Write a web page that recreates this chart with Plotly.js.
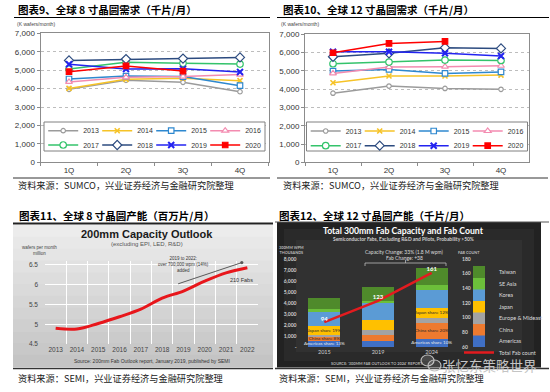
<!DOCTYPE html>
<html><head><meta charset="utf-8">
<script src="https://cdn.plot.ly/plotly-3.0.1.min.js"></script>
<style>html,body{margin:0;padding:0;background:#fff;}#chart{width:550px;height:392px;}</style>
</head><body><div id="chart"></div>
<script>
// ---------------- DATA ----------------
const quarters = ['1Q', '2Q', '3Q', '4Q'];
const demandYears = ['2013', '2014', '2015', '2016', '2017', '2018', '2019', '2020'];
const demandTickVals = [0, 1000, 2000, 3000, 4000, 5000, 6000, 7000];

// Global 8-inch (200mm) wafer demand, K wafers/month
const demand8_2013 = [3960, 4450, 4340, 3830];
const demand8_2014 = [4010, 4500, 4560, 4430];
const demand8_2015 = [4520, 4680, 4650, 4160];
const demand8_2016 = [4360, 4610, 4650, 4760];
const demand8_2017 = [5060, 5430, 5370, 5330];
const demand8_2018 = [5530, 5600, 5630, 5690];
const demand8_2019 = [5320, 5060, 5070, 4900];
const demand8_2020 = [4920, 5230, 4950];

// Global 12-inch (300mm) wafer demand, K wafers/month
const demand12_2013 = [3780, 4170, 4040, 3990];
const demand12_2014 = [4350, 4720, 4720, 4770];
const demand12_2015 = [4990, 5080, 4860, 4940];
const demand12_2016 = [4860, 5210, 5230, 5280];
const demand12_2017 = [5390, 5480, 5590, 5570];
const demand12_2018 = [5770, 5960, 6270, 6230];
const demand12_2019 = [6050, 6050, 5960, 5810];
const demand12_2020 = [5990, 6500, 6610];

// 200mm capacity outlook (million wafers per month)
const capYears = ['2013', '2014', '2015', '2016', '2017', '2018', '2019', '2020', '2021', '2022'];
const cap200mm = [4.90, 4.88, 5.02, 5.19, 5.38, 5.66, 5.84, 6.09, 6.30, 6.43];
const capTickVals = [4.5, 5, 5.5, 6, 6.5];

// 300mm fab capacity (K wpm) by region and fab count
const fabYears = ['2015', '2019', '2024'];
const capAmericas = [570, 550, 720];
const capChina = [350, 580, 1450];
const capEurope = [150, 400, 500];
const capJapan = [840, 920, 870];
const capKorea = [1250, 1530, 1680];
const capSEAsia = [250, 200, 400];
const capTaiwan = [1000, 1250, 1590];
const fabCount = [94, 123, 161];
const fabCountLabels = ['94', '123', '161'];
const shareAmericas = ['Americas share 13%', '', 'Americas share 10%'];
const shareChina = ['China share 8%', '', 'China share 20%'];
const shareJapan = ['Japan share 19%', '', 'Japan share 12%'];
const capTickVals300 = [0, 1000, 2000, 3000, 4000, 5000, 6000, 7000, 8000];
const capTickText300 = ['-', '1,000', '2,000', '3,000', '4,000', '5,000', '6,000', '7,000', '8,000'];
const fabTickVals = [60, 80, 100, 120, 140, 160, 180];

// ---------------- STYLE ----------------
const W = 550, H = 392;
const px = x => x / W;
const py = y => 1 - y / H;
const CJK = 'Noto Sans CJK SC, sans-serif';
const SANS = 'Liberation Sans, Arial, sans-serif';
const LATO = 'Lato, Open Sans, sans-serif';

const seriesStyle = {
  '2013': {color: '#9b9b9b', symbol: 'circle', fill: '#ffffff', size: 4.5},
  '2014': {color: '#f6c327', symbol: 'x-thin', size: 5, lw: 1.6},
  '2015': {color: '#2e88cf', symbol: 'square', fill: '#ffffff', size: 5.5},
  '2016': {color: '#f38bb0', symbol: 'triangle-up', fill: '#ffffff', size: 6},
  '2017': {color: '#34c36b', symbol: 'circle', fill: '#ffffff', size: 6.5},
  '2018': {color: '#2c4b7f', symbol: 'diamond', fill: '#ffffff', size: 7},
  '2019': {color: '#2323f0', symbol: 'x-thin', size: 6, lw: 2},
  '2020': {color: '#ff0000', symbol: 'square', fill: '#ff0000', size: 5.5}
};

function demandTrace(year, values, xa, ya, legendId, lw) {
  const s = seriesStyle[year];
  return {
    type: 'scatter', mode: 'lines+markers', name: year,
    x: quarters.slice(0, values.length), y: values,
    xaxis: xa, yaxis: ya, legend: legendId, legendwidth: lw,
    line: {color: s.color, width: 1.5},
    marker: {symbol: s.symbol, size: s.size, color: s.fill || s.color,
             line: {color: s.color, width: s.lw || 1.2}},
    hoverinfo: 'skip'
  };
}

const set8 = [demand8_2013, demand8_2014, demand8_2015, demand8_2016, demand8_2017, demand8_2018, demand8_2019, demand8_2020];
const set12 = [demand12_2013, demand12_2014, demand12_2015, demand12_2016, demand12_2017, demand12_2018, demand12_2019, demand12_2020];

const data = [];
demandYears.forEach((yr, i) => {
  data.push(demandTrace(yr, set8[i], 'x', 'y', i < 4 ? 'legend' : 'legend2', i % 4 === 3 ? 17 : 9));
});
demandYears.forEach((yr, i) => {
  data.push(demandTrace(yr, set12[i], 'x2', 'y2', i < 4 ? 'legend3' : 'legend4', i % 4 === 3 ? 17 : 9));
});

// panel 3 curve
data.push({
  type: 'scatter', mode: 'lines', x: capYears, y: cap200mm, xaxis: 'x3', yaxis: 'y3',
  line: {color: '#e8161b', width: 3, shape: 'spline', smoothing: 1},
  showlegend: false, hoverinfo: 'skip'
});

// panel 4 stacked bars
function barTrace(name, values, color, legendId) {
  return {
    type: 'bar', name: name, x: fabYears, y: values, xaxis: 'x4', yaxis: 'y4',
    marker: {color: color}, legend: legendId, hoverinfo: 'skip', textposition: 'none'
  };
}
data.push(barTrace('Americas', capAmericas, '#3f6fc4', 'legend11'));
data.push(barTrace('China', capChina, '#ed7a2f', 'legend10'));
data.push(barTrace('Europe & Mideast', capEurope, '#a3a3a3', 'legend9'));
data.push(barTrace('Japan', capJapan, '#ffc000', 'legend8'));
data.push(barTrace('Korea', capKorea, '#5b9bd5', 'legend7'));
data.push(barTrace('SE Asia', capSEAsia, '#6cbf3a', 'legend6'));
data.push(barTrace('Taiwan', capTaiwan, '#4f8a2b', 'legend5'));

// share labels placed at the middle of their stacked segments (derived from the data)
const midAmericas = capAmericas.map(v => v / 2);
const midChina = capChina.map((v, i) => capAmericas[i] + v / 2);
const midJapan = capJapan.map((v, i) => capAmericas[i] + capChina[i] + capEurope[i] + v / 2);
function labelTrace(y, text, color) {
  return {type: 'scatter', mode: 'text', x: fabYears, y: y, text: text, xaxis: 'x4', yaxis: 'y4',
          textposition: 'middle center', cliponaxis: false, showlegend: false, hoverinfo: 'skip',
          textfont: {family: LATO, size: 4.6, color: color}};
}
data.push(labelTrace(midAmericas, shareAmericas, '#e8e8e8'));
data.push(labelTrace(midChina, shareChina, '#2a2a2a'));
data.push(labelTrace(midJapan, shareJapan, '#2a2a2a'));

data.push({
  type: 'scatter', mode: 'lines+text', name: 'Total Fab count',
  x: fabYears, y: fabCount, xaxis: 'x4', yaxis: 'y5',
  text: fabCountLabels, textposition: 'top center', cliponaxis: false,
  textfont: {family: LATO, size: 6, color: '#ffffff', weight: 'bold'},
  line: {color: '#e31b1f', width: 2.5}, legend: 'legend12', hoverinfo: 'skip'
});

// ---------------- LEGENDS ----------------
function rowLegend(x, yc) {
  return {orientation: 'h', x: px(x), y: py(yc - 14.5), xanchor: 'left', yanchor: 'top',
          bgcolor: 'rgba(0,0,0,0)', borderwidth: 0, traceorder: 'normal',
          font: {family: SANS, size: 7, color: '#333'}};
}
function sideLegend(yc) {
  return {orientation: 'v', x: px(459), y: py(yc - 14.5), xanchor: 'left', yanchor: 'top',
          bgcolor: 'rgba(0,0,0,0)', borderwidth: 0,
          font: {family: LATO, size: 5.5, color: '#dddddd'}};
}

// ---------------- SHAPES ----------------
const shapes = [];
function hline(x0, x1, y, color, w) {
  shapes.push({type: 'line', xref: 'paper', yref: 'paper', x0: px(x0), x1: px(x1), y0: py(y), y1: py(y),
               line: {color: color, width: w}, layer: 'above'});
}
function vline(x, y0, y1, color, w) {
  shapes.push({type: 'line', xref: 'paper', yref: 'paper', x0: px(x), x1: px(x), y0: py(y0), y1: py(y1),
               line: {color: color, width: w}, layer: 'above'});
}
// panel 3 gray picture background (gradient bands)
const bTop = 225, bBot = 366.5, nb = 12;
for (let i = 0; i < nb; i++) {
  const t = i / (nb - 1);
  const c = Math.round(236 - t * (236 - 196));
  shapes.push({type: 'rect', xref: 'paper', yref: 'paper', x0: px(13), x1: px(273),
    y0: py(bTop + (i + 1) * (bBot - bTop) / nb + 0.6), y1: py(bTop + i * (bBot - bTop) / nb),
    fillcolor: 'rgb(' + c + ',' + c + ',' + c + ')', line: {width: 0}, layer: 'below'});
}
// panel 4 dark picture background
shapes.push({type: 'rect', xref: 'paper', yref: 'paper', x0: px(277), x1: px(541), y0: py(367.5), y1: py(222),
  fillcolor: '#222222', line: {width: 0}, layer: 'below'});
shapes.push({type: 'rect', xref: 'paper', yref: 'paper', x0: px(284), x1: px(534), y0: py(361), y1: py(229),
  fillcolor: '#2a2a2a', line: {width: 0}, layer: 'below'});
shapes.push({type: 'rect', xref: 'paper', yref: 'paper', x0: px(296), x1: px(522), y0: py(352), y1: py(240),
  fillcolor: '#313131', line: {width: 0}, layer: 'below'});
// legend boxes (panels 1 and 2)
shapes.push({type: 'rect', xref: 'paper', yref: 'paper', x0: px(44), x1: px(265), y0: py(151), y1: py(122),
  fillcolor: '#ffffff', line: {color: '#808080', width: 1}, layer: 'above'});
shapes.push({type: 'rect', xref: 'paper', yref: 'paper', x0: px(306.5), x1: px(527.5), y0: py(151), y1: py(122),
  fillcolor: '#ffffff', line: {color: '#808080', width: 1}, layer: 'above'});
// title underlines and bottom rules
hline(14, 270, 17.5, '#000', 1);
hline(277, 549, 17.5, '#000', 1);
hline(13, 270, 178, '#333', 1);
hline(277, 548, 178, '#333', 1);
hline(13, 273, 223.5, '#222', 2);
hline(275, 549, 222, '#555', 1);
hline(13, 273, 368.5, '#333', 1.5);
hline(275, 549, 368.5, '#333', 1.5);
// bracket in panel 4
hline(365, 446, 263, '#bbbbbb', 0.8);
vline(365, 263, 266, '#bbbbbb', 0.8);
vline(446, 263, 266, '#bbbbbb', 0.8);
vline(405.5, 260, 263, '#bbbbbb', 0.8);
// wechat icon of watermark
shapes.push({type: 'circle', xref: 'paper', yref: 'paper', x0: px(421), x1: px(434), y0: py(366), y1: py(355),
  fillcolor: 'rgba(255,255,255,0.15)', line: {color: '#bdbdbd', width: 1.2}, layer: 'above'});
shapes.push({type: 'circle', xref: 'paper', yref: 'paper', x0: px(428), x1: px(441), y0: py(371), y1: py(360),
  fillcolor: 'rgba(255,255,255,0.15)', line: {color: '#bdbdbd', width: 1.2}, layer: 'above'});

// ---------------- ANNOTATIONS ----------------
function txt(text, x, y, font, extra) {
  return Object.assign({text: text, x: px(x), y: py(y), xref: 'paper', yref: 'paper', showarrow: false,
    xanchor: 'center', yanchor: 'middle', font: font}, extra || {});
}
const titleFont = {family: CJK, size: 10.5, color: '#000'};
const srcFont = {family: CJK, size: 9.2, color: '#222'};
const annotations = [
  txt('<b>图表9、全球 8 寸晶圆需求（千片/月）</b>', 16, 10, titleFont, {xanchor: 'left'}),
  txt('<b>图表10、全球 12 寸晶圆需求（千片/月）</b>', 281, 10, titleFont, {xanchor: 'left'}),
  txt('<b>图表11、全球 8 寸晶圆产能（百万片/月）</b>', 17, 215, titleFont, {xanchor: 'left'}),
  txt('<b>图表12、全球 12 寸晶圆产能（千片/月）</b>', 277, 215, titleFont, {xanchor: 'left'}),
  txt('资料来源：SUMCO，兴业证券经济与金融研究院整理', 16, 185, srcFont, {xanchor: 'left'}),
  txt('资料来源：SUMCO，兴业证券经济与金融研究院整理', 281, 185, srcFont, {xanchor: 'left'}),
  txt('资料来源：SEMI，兴业证券经济与金融研究院整理', 16, 378, srcFont, {xanchor: 'left'}),
  txt('资料来源：SEMI，兴业证券经济与金融研究院整理', 277, 378, srcFont, {xanchor: 'left'}),
  txt('(K wafers/month)', 15, 23.5, {family: SANS, size: 5, color: '#444'}, {xanchor: 'left'}),
  txt('(K wafers/month)', 279, 24, {family: SANS, size: 5, color: '#444'}, {xanchor: 'left'}),
  // panel 3
  txt('<b>200mm Capacity Outlook</b>', 147, 234, {family: SANS, size: 11, color: '#1a1a1a'}),
  txt('(excluding EPI, LED, R&amp;D)', 147, 244.5, {family: SANS, size: 6, color: '#555'}),
  txt('wafers per month<br>million', 39, 250, {family: SANS, size: 4.5, color: '#444'}),
  txt('2019 to 2022:<br>over 700,000 wpm (14%)<br>added', 183, 264.5, {family: SANS, size: 4.5, color: '#333'}),
  txt('210 Fabs', 241, 280, {family: SANS, size: 5.5, color: '#333'}),
  txt('Source: 200mm Fab Outlook report, January 2019, published by SEMI', 152, 361, {family: SANS, size: 5, color: '#333'}),
  {xref: 'x3', yref: 'y3', axref: 'x3', ayref: 'y3', x: 8.74, y: 6.56, ax: 5.68, ay: 6.01,
   text: '', showarrow: true, arrowhead: 6, arrowsize: 0.8, arrowwidth: 1, arrowcolor: '#5a5a5a', standoff: 0},
  // panel 4
  txt('<b>Total 300mm Fab Capacity and Fab Count</b>', 403, 230, {family: LATO, size: 8.7, color: '#ffffff'}),
  txt('<b>Semiconductor Fabs, Excluding R&amp;D and Pilots, Probability &gt;50%</b>', 403, 238.5, {family: LATO, size: 4.9, color: '#cfcfcf'}),
  txt('<b>300MM WPM<br>THOUSANDS</b>', 291, 250, {family: LATO, size: 3.8, color: '#bdbdbd'}),
  txt('<b>FAB COUNT</b>', 469, 252, {family: LATO, size: 3.8, color: '#bdbdbd'}),
  txt('Capacity Change: 33% (1.8 M wpm)', 404, 252, {family: LATO, size: 5, color: '#dadada'}),
  txt('Fab Change: +38', 404, 257.5, {family: LATO, size: 5, color: '#dadada'}),
  txt("<b>SOURCE: '300MM FAB OUTLOOK TO 2024' REPORT</b>", 329, 363.5,
      {family: LATO, size: 3.8, color: '#b5b5b5'}, {xanchor: 'left'}),
  txt('张忆东策略世界', 489, 365, {family: CJK, size: 13.5, color: '#c4c4c4'})
];

// ---------------- LAYOUT ----------------
const demandX = (dom, anchor) => ({
  domain: dom, anchor: anchor, type: 'category', range: [-0.5, 3.5], tickson: 'boundaries',
  ticks: 'outside', ticklen: 3, tickcolor: '#8c8c8c', showline: true, mirror: true,
  linecolor: '#8c8c8c', linewidth: 1, showgrid: false, tickangle: 0,
  tickfont: {family: SANS, size: 8, color: '#333'}, fixedrange: true
});
const demandY = (dom, anchor) => ({
  domain: dom, anchor: anchor, range: [0, 7000], tickmode: 'array', tickvals: demandTickVals,
  tickformat: ',', ticks: 'outside', ticklen: 3, tickcolor: '#8c8c8c', showline: true, mirror: true,
  linecolor: '#8c8c8c', linewidth: 1, showgrid: true, gridcolor: '#bdbdbd', griddash: 'dot',
  zeroline: false, tickfont: {family: SANS, size: 8, color: '#333'}, fixedrange: true
});

const layout = {
  width: W, height: H,
  margin: {l: 0, r: 0, t: 0, b: 0, autoexpand: false},
  paper_bgcolor: '#ffffff', plot_bgcolor: 'rgba(0,0,0,0)',
  font: {family: SANS, size: 8, color: '#333'},
  showlegend: true,
  barmode: 'stack', bargap: 0.4,
  xaxis: demandX([px(40.5), px(268.5)], 'y'),
  yaxis: demandY([py(162.3), py(33.3)], 'x'),
  xaxis2: demandX([px(305), px(529)], 'y2'),
  yaxis2: demandY([py(162.3), py(34.3)], 'x2'),
  xaxis3: {domain: [px(45), px(258)], anchor: 'y3', type: 'category', range: [-0.5, 9.5],
           tickson: 'boundaries', ticks: '', showline: false, showgrid: true, gridcolor: '#ffffff',
           gridwidth: 1, tickangle: 0, tickfont: {family: SANS, size: 6.5, color: '#444'}},
  yaxis3: {domain: [py(344), py(261)], anchor: 'x3', range: [4.5, 6.6], tickmode: 'array',
           tickvals: capTickVals, showgrid: true, gridcolor: '#ffffff', gridwidth: 1, zeroline: false,
           ticks: '', showline: false, ticklabelstandoff: 6,
           tickfont: {family: SANS, size: 6.5, color: '#444'}},
  xaxis4: {domain: [px(297.5), px(458.5)], anchor: 'y4', type: 'category', showgrid: false,
           showline: false, ticks: '', tickangle: 0, tickfont: {family: LATO, size: 5.5, color: '#cfcfcf'}},
  yaxis4: {domain: [py(347), py(259)], anchor: 'x4', range: [0, 8000], tickmode: 'array',
           tickvals: capTickVals300, ticktext: capTickText300, showgrid: false, zeroline: false,
           ticks: '', showline: false,
           tickfont: {family: LATO, size: 5, color: '#cfcfcf', weight: 'bold'}},
  yaxis5: {overlaying: 'y4', side: 'right', anchor: 'free', position: px(461), range: [60, 180],
           tickmode: 'array', tickvals: fabTickVals, showgrid: false, zeroline: false, ticks: '',
           showline: false, tickfont: {family: LATO, size: 5, color: '#cfcfcf', weight: 'bold'}},
  legend: rowLegend(43.2, 130.7),
  legend2: rowLegend(43.2, 145),
  legend3: rowLegend(305.7, 131),
  legend4: rowLegend(305.7, 145.7),
  legend5: sideLegend(272),
  legend6: sideLegend(283.5),
  legend7: sideLegend(295),
  legend8: sideLegend(306.5),
  legend9: sideLegend(318),
  legend10: sideLegend(329.5),
  legend11: sideLegend(341),
  legend12: sideLegend(352.5),
  shapes: shapes,
  annotations: annotations
};

Plotly.newPlot('chart', data, layout, {staticPlot: true, displayModeBar: false});
</script>
</body></html>
